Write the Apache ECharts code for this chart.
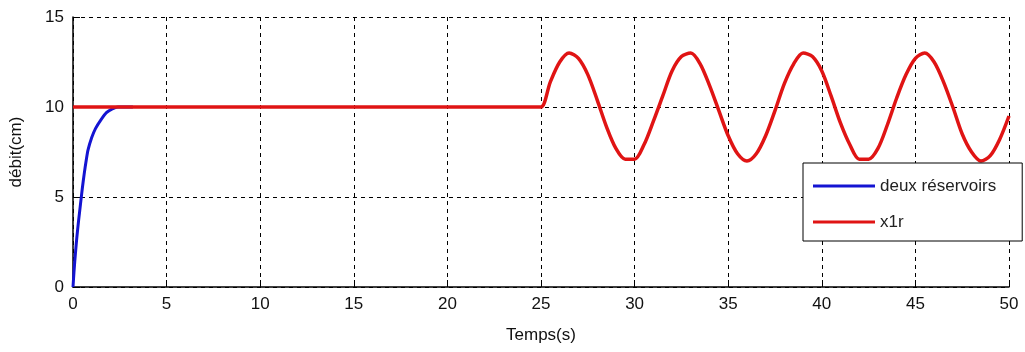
<!DOCTYPE html>
<html>
<head>
<meta charset="utf-8">
<script src="https://cdn.jsdelivr.net/npm/echarts@6/dist/echarts.min.js"></script>
<style>
  html, body { margin: 0; padding: 0; background: #fff; }
  #chart { width: 1025px; height: 352px; }
</style>
</head>
<body>
<div id="chart"></div>
<script>
// valeurs
const xTicks = [0, 5, 10, 15, 20, 25, 30, 35, 40, 45, 50];
const yTicks = [0, 5, 10, 15];

// deux réservoirs (réponse indicielle)
const blueTime = [0, 0.05, 0.1, 0.2, 0.3, 0.4, 0.5, 0.6, 0.7, 0.8, 1.0, 1.2, 1.5, 1.8, 2.1, 2.4, 3.2];
const blueValues = [0, 0.8, 1.5, 2.7, 3.7, 4.6, 5.5, 6.3, 7.0, 7.6, 8.3, 8.8, 9.3, 9.7, 9.9, 10, 10];

// x1r : consigne constante puis oscillation
const redTime = [0, 24, 24.5, 25, 25.5, 26, 26.5, 27, 27.5, 28, 28.5, 29, 29.5, 30, 30.5, 31, 31.5, 32, 32.5,
  33, 33.5, 34, 34.5, 35, 35.5, 36, 36.5, 37, 37.5, 38, 38.5, 39, 39.5, 40, 40.5, 41, 41.5, 42,
  42.5, 43, 43.5, 44, 44.5, 45, 45.5, 46, 46.5, 47, 47.5, 48, 48.5, 49, 49.5, 50];
const redValues = [10, 10, 10, 10.0, 11.4, 12.5, 13.0, 12.7, 11.8, 10.4, 8.9, 7.7, 7.1, 7.1, 7.9, 9.2, 10.6,
  12.0, 12.8, 13.0, 12.4, 11.2, 9.8, 8.4, 7.4, 7.0, 7.4, 8.4, 9.8, 11.3, 12.4, 13.0, 12.8, 12.0,
  10.6, 9.1, 7.9, 7.1, 7.1, 7.7, 9.0, 10.5, 11.8, 12.7, 13.0, 12.5, 11.4, 10.0, 8.5, 7.5, 7.0,
  7.3, 8.2, 9.5];

const seriesNames = ['deux réservoirs', 'x1r'];

function pairs(xs, ys) {
  return xs.map((x, i) => [x, ys[i]]);
}

const chart = echarts.init(document.getElementById('chart'));
const font = 'Liberation Sans, Arial, sans-serif';
const gridLine = { show: true, lineStyle: { color: '#000', width: 1, type: [4, 4] } };

chart.setOption({
  animation: false,
  backgroundColor: '#fff',
  grid: { left: 70, right: 16, top: 17, bottom: 65 },
  legend: {
    orient: 'vertical',
    left: 803,
    top: 163,
    padding: [13, 26, 9, 10],
    itemGap: 16,
    itemWidth: 62,
    itemHeight: 3,
    icon: 'rect',
    backgroundColor: '#fff',
    borderColor: '#000',
    borderWidth: 1,
    borderRadius: 0,
    textStyle: { fontFamily: font, fontSize: 17, color: '#222', lineHeight: 20 },
    data: seriesNames
  },
  xAxis: {
    type: 'value',
    min: xTicks[0],
    max: xTicks[xTicks.length - 1],
    interval: 5,
    name: 'Temps(s)',
    nameLocation: 'middle',
    nameGap: 40,
    nameTextStyle: { fontFamily: font, fontSize: 17, color: '#111' },
    axisLine: { show: true, onZero: false, lineStyle: { color: '#000', width: 1.5 } },
    axisTick: { show: true, inside: true, length: 7, lineStyle: { color: '#000' } },
    axisLabel: { fontFamily: font, fontSize: 17, color: '#111', margin: 9 },
    splitLine: gridLine
  },
  yAxis: {
    type: 'value',
    min: yTicks[0],
    max: yTicks[yTicks.length - 1],
    interval: 5,
    name: 'débit(cm)',
    nameLocation: 'middle',
    nameGap: 48,
    nameTextStyle: { fontFamily: font, fontSize: 17, color: '#111' },
    axisLine: { show: true, lineStyle: { color: '#000', width: 1.5 } },
    axisTick: { show: true, inside: true, length: 7, lineStyle: { color: '#000' } },
    axisLabel: { fontFamily: font, fontSize: 17, color: '#111', margin: 9 },
    splitLine: gridLine
  },
  series: [
    {
      name: seriesNames[0],
      type: 'line',
      data: pairs(blueTime, blueValues),
      showSymbol: false,
      symbol: 'none',
      smooth: 0.2,
      lineStyle: { color: '#1414d2', width: 3 },
      itemStyle: { color: '#1414d2' }
    },
    {
      name: seriesNames[1],
      type: 'line',
      data: pairs(redTime, redValues),
      showSymbol: false,
      symbol: 'none',
      smooth: 0.3,
      lineStyle: { color: '#e01414', width: 3.5, join: 'round' },
      itemStyle: { color: '#e01414' }
    }
  ]
});
</script>
</body>
</html>
